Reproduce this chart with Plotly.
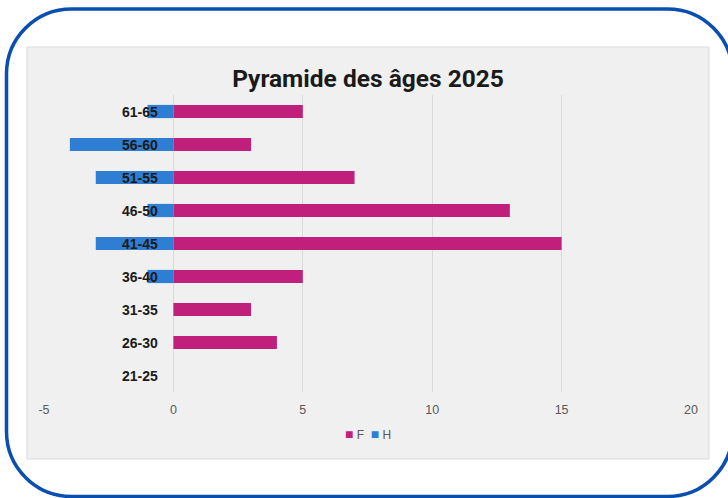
import plotly.graph_objects as go

categories = ["61-65", "56-60", "51-55", "46-50", "41-45", "36-40", "31-35", "26-30", "21-25"]
femmes = [5, 3, 7, 13, 15, 5, 3, 4, 0]
hommes = [-1, -4, -3, -1, -3, -1, 0, 0, 0]
x_ticks = [-5, 0, 5, 10, 15, 20]
series_names = ["F", "H"]
series_colors = ["#c01f7b", "#2e7ed3"]

W, H = 728, 498
L, R, T, B = 44, 691, 95, 392  # plot area in pixels


def px(x):
    return (x - L) / (R - L)


def py(y):
    return (B - y) / (B - T)


def rounded_path(x0, y0, x1, y1, r):
    k = 0.5523 * r
    P = lambda x, y: f"{px(x)} {py(y)}"
    pts = [
        f"M {P(x0 + r, y0)}",
        f"L {P(x1 - r, y0)}",
        f"C {P(x1 - r + k, y0)} {P(x1, y0 + r - k)} {P(x1, y0 + r)}",
        f"L {P(x1, y1 - r)}",
        f"C {P(x1, y1 - r + k)} {P(x1 - r + k, y1)} {P(x1 - r, y1)}",
        f"L {P(x0 + r, y1)}",
        f"C {P(x0 + r - k, y1)} {P(x0, y1 - r + k)} {P(x0, y1 - r)}",
        f"L {P(x0, y0 + r)}",
        f"C {P(x0, y0 + r - k)} {P(x0 + r - k, y0)} {P(x0 + r, y0)}",
        "Z",
    ]
    return " ".join(pts)


fig = go.Figure()
fig.add_trace(go.Bar(
    y=categories, x=femmes, name=series_names[0], orientation="h",
    marker=dict(color=series_colors[0], line=dict(width=0)), showlegend=False,
))
fig.add_trace(go.Bar(
    y=categories, x=hommes, name=series_names[1], orientation="h",
    marker=dict(color=series_colors[1], line=dict(width=0)), showlegend=False,
))

shapes = [
    dict(type="rect", xref="paper", yref="paper",
         x0=px(27), x1=px(709), y0=py(47), y1=py(459),
         fillcolor="#f0f0f0", line=dict(color="#d9d9d9", width=1), layer="below"),
    dict(type="path", xref="paper", yref="paper",
         path=rounded_path(6.5, 9, 732.5, 496.5, 65),
         line=dict(color="#0a4eb0", width=3.5), layer="above"),
]

annotations = [
    dict(x=0, y=c, xref="x", yref="y", text=f"<b>{c}</b>", showarrow=False,
         xanchor="right", yanchor="middle", xshift=-13,
         font=dict(family="Liberation Sans, Arial, sans-serif", size=14, color="#1a1a1a"))
    for c in categories
]

legend_text = "&nbsp;&nbsp;".join(
    f"<span style='color:{col};font-size:14px'>■</span> {name}"
    for name, col in zip(series_names, series_colors)
)
annotations.append(dict(
    x=0.5, y=py(434), xref="paper", yref="paper", text=legend_text, showarrow=False,
    xanchor="center", yanchor="middle",
    font=dict(family="Liberation Sans, Arial, sans-serif", size=12, color="#595959"),
))

fig.update_layout(
    width=W, height=H,
    margin=dict(l=L, r=W - R, t=T, b=H - B, pad=0),
    paper_bgcolor="white",
    plot_bgcolor="rgba(0,0,0,0)",
    barmode="relative",
    bargap=0.6,
    title=dict(text="<b>Pyramide des âges 2025</b>", x=368 / W, xanchor="center",
               y=1 - 78 / H, yanchor="middle", xref="container", yref="container",
               font=dict(family="Roboto, Liberation Sans, sans-serif", size=24.5, color="#1a1a1a")),
    xaxis=dict(range=[-5, 20], tickvals=x_ticks, ticktext=[str(v) for v in x_ticks],
               showgrid=True, gridcolor="#d9d9d9", gridwidth=1,
               zeroline=True, zerolinecolor="#d9d9d9", zerolinewidth=1,
               showline=False, ticks="", ticklabelstandoff=8,
               tickfont=dict(family="Liberation Sans, Arial, sans-serif", size=12.5, color="#595959"),
               fixedrange=True),
    yaxis=dict(categoryorder="array", categoryarray=categories, autorange="reversed",
               showticklabels=False, showgrid=False, zeroline=False, ticks="", fixedrange=True),
    showlegend=False,
    shapes=shapes,
    annotations=annotations,
)

fig.write_html(
    "out.html",
    config={"displayModeBar": False},
    post_script="document.body.style.margin='0';document.body.style.overflow='hidden';",
)
